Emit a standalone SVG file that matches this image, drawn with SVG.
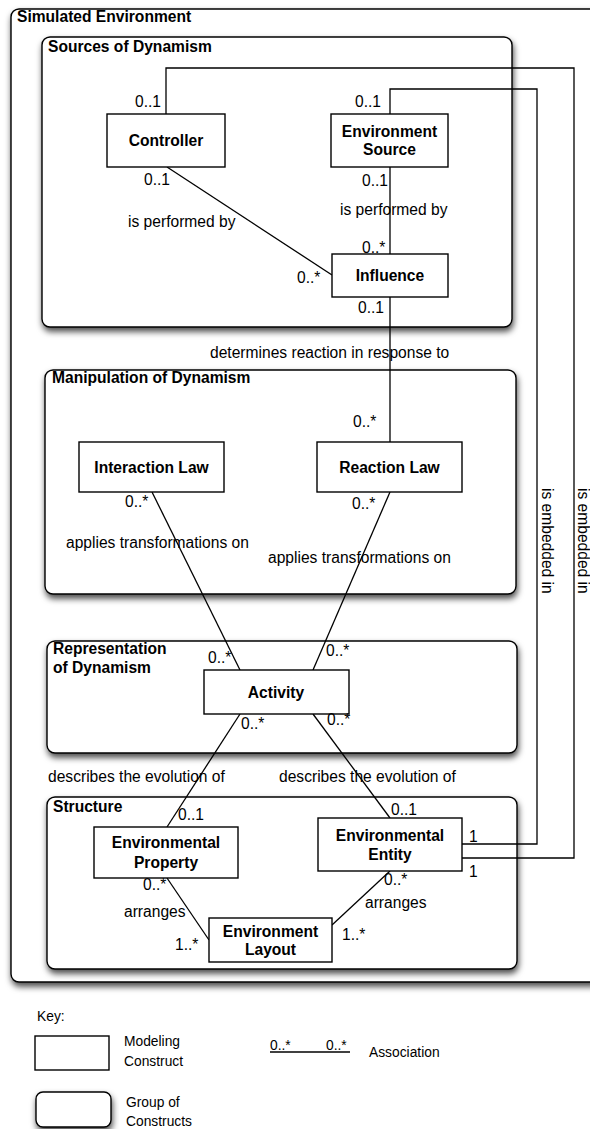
<svg xmlns="http://www.w3.org/2000/svg" width="590" height="1129" viewBox="0 0 590 1129">
  <defs>
    <filter id="shadow" x="-10%" y="-10%" width="120%" height="130%">
      <feDropShadow dx="1" dy="4" stdDeviation="3" flood-color="#000" flood-opacity="0.7"/>
    </filter>
  </defs>
  <style>
    text { font-family: "Liberation Sans", Arial, Helvetica, sans-serif; fill: #000; }
    .t { font-size: 15.6px; }
    .b { font-size: 15.6px; font-weight: bold; }
    .k { font-size: 13.8px; }
    .mid { text-anchor: middle; }
    .group { fill: #fff; stroke: #000; stroke-width: 1.4; filter: url(#shadow); }
    .node { fill: #fff; stroke: #000; stroke-width: 1.4; }
    .conn { fill: none; stroke: #000; stroke-width: 1.3; }
  </style>
  <rect width="590" height="1129" fill="#fff"/>

  <!-- outer frame -->
  <g id="simulated-environment">
    <rect class="group" x="11" y="9" width="600" height="973" rx="8"/>
    <text class="b" x="17" y="22">Simulated Environment</text>
  </g>

  <!-- groups of constructs -->
  <g id="sources-of-dynamism">
    <rect class="group" x="42" y="37" width="470" height="290" rx="8"/>
    <text class="b" x="48" y="52">Sources of Dynamism</text>
  </g>
  <g id="manipulation-of-dynamism">
    <rect class="group" x="45" y="370" width="471" height="224" rx="8"/>
    <text class="b" x="52" y="383">Manipulation of Dynamism</text>
  </g>
  <g id="representation-of-dynamism">
    <rect class="group" x="47" y="641" width="470" height="112" rx="8"/>
    <text class="b" x="53" y="654">Representation</text>
    <text class="b" x="53" y="673">of Dynamism</text>
  </g>
  <g id="structure">
    <rect class="group" x="47" y="797" width="470" height="172" rx="8"/>
    <text class="b" x="53" y="812">Structure</text>
  </g>

  <!-- associations -->
  <g id="connectors">
    <polyline class="conn" points="166,114 166,68 574,68 574,858 462,858"/>
    <polyline class="conn" points="390,114 390,89 537,89 537,844 462,844"/>
    <line class="conn" x1="167" y1="167" x2="332" y2="275"/>
    <line class="conn" x1="390" y1="167" x2="390" y2="254"/>
    <line class="conn" x1="390" y1="297" x2="390" y2="442"/>
    <line class="conn" x1="152" y1="492" x2="240" y2="670"/>
    <line class="conn" x1="390" y1="492" x2="313" y2="670"/>
    <line class="conn" x1="240" y1="714" x2="167" y2="827"/>
    <line class="conn" x1="313" y1="714" x2="390" y2="818"/>
    <line class="conn" x1="167" y1="878" x2="209" y2="940"/>
    <line class="conn" x1="390" y1="871" x2="332" y2="925"/>
  </g>

  <!-- modeling constructs -->
  <g id="controller">
    <rect class="node" x="107" y="114" width="118" height="53"/>
    <text class="b mid" x="166" y="146">Controller</text>
  </g>
  <g id="environment-source">
    <rect class="node" x="331" y="114" width="117" height="53"/>
    <text class="b mid" x="389.5" y="137">Environment</text>
    <text class="b mid" x="389.5" y="155">Source</text>
  </g>
  <g id="influence">
    <rect class="node" x="332" y="254" width="116" height="43"/>
    <text class="b mid" x="390" y="281">Influence</text>
  </g>
  <g id="interaction-law">
    <rect class="node" x="79" y="442" width="145" height="50"/>
    <text class="b mid" x="151.5" y="473">Interaction Law</text>
  </g>
  <g id="reaction-law">
    <rect class="node" x="317" y="442" width="145" height="50"/>
    <text class="b mid" x="389.5" y="473">Reaction Law</text>
  </g>
  <g id="activity">
    <rect class="node" x="204" y="670" width="145" height="44"/>
    <text class="b mid" x="276" y="698">Activity</text>
  </g>
  <g id="environmental-property">
    <rect class="node" x="94" y="827" width="144" height="51"/>
    <text class="b mid" x="166" y="848">Environmental</text>
    <text class="b mid" x="166" y="868">Property</text>
  </g>
  <g id="environmental-entity">
    <rect class="node" x="318" y="818" width="144" height="53"/>
    <text class="b mid" x="390" y="841">Environmental</text>
    <text class="b mid" x="390" y="860">Entity</text>
  </g>
  <g id="environment-layout">
    <rect class="node" x="209" y="918" width="123" height="44"/>
    <text class="b mid" x="270.5" y="937">Environment</text>
    <text class="b mid" x="270.5" y="955">Layout</text>
  </g>

  <!-- association labels and multiplicities -->
  <g id="labels">
    <text class="t" x="135" y="107">0..1</text>
    <text class="t" x="144" y="185">0..1</text>
    <text class="t" x="128" y="227">is performed by</text>
    <text class="t" x="355" y="107">0..1</text>
    <text class="t" x="362" y="186">0..1</text>
    <text class="t" x="340" y="215">is performed by</text>
    <text class="t" x="362" y="253">0..*</text>
    <text class="t" x="297" y="283">0..*</text>
    <text class="t" x="358" y="313">0..1</text>
    <text class="t" x="210" y="358">determines reaction in response to</text>
    <text class="t" x="353" y="427">0..*</text>
    <text class="t" x="125" y="507">0..*</text>
    <text class="t" x="352" y="509">0..*</text>
    <text class="t" x="66" y="548">applies transformations on</text>
    <text class="t" x="268" y="563">applies transformations on</text>
    <text class="t" x="208" y="663">0..*</text>
    <text class="t" x="326" y="656">0..*</text>
    <text class="t" x="241" y="729">0..*</text>
    <text class="t" x="327" y="725">0..*</text>
    <text class="t" x="48" y="782">describes the evolution of</text>
    <text class="t" x="279" y="782">describes the evolution of</text>
    <text class="t" x="178" y="820">0..1</text>
    <text class="t" x="143" y="890">0..*</text>
    <text class="t" x="124" y="917">arranges</text>
    <text class="t" x="175" y="950">1..*</text>
    <text class="t" x="391" y="815">0..1</text>
    <text class="t" x="469" y="842">1</text>
    <text class="t" x="469" y="877">1</text>
    <text class="t" x="384" y="885">0..*</text>
    <text class="t" x="365" y="908">arranges</text>
    <text class="t" x="342" y="940">1..*</text>
    <text class="t" transform="translate(542,488) rotate(90)">is embedded in</text>
    <text class="t" transform="translate(578,488) rotate(90)">is embedded in</text>
  </g>

  <!-- legend -->
  <g id="key">
    <text class="k" x="37" y="1021">Key:</text>
    <rect class="node" x="35" y="1036" width="74" height="34" stroke-width="1.2"/>
    <text class="k" x="124" y="1046">Modeling</text>
    <text class="k" x="124" y="1066">Construct</text>
    <text class="k" x="270" y="1050" font-size="13px">0..*</text>
    <text class="k" x="326" y="1050" font-size="13px">0..*</text>
    <line class="conn" x1="270" y1="1052" x2="350" y2="1052" stroke-width="1.1"/>
    <text class="k" x="369" y="1057">Association</text>
    <rect class="group" x="36" y="1092" width="75" height="35" rx="7" stroke-width="1.2"/>
    <text class="k" x="126" y="1107">Group of</text>
    <text class="k" x="126" y="1126">Constructs</text>
  </g>
</svg>
